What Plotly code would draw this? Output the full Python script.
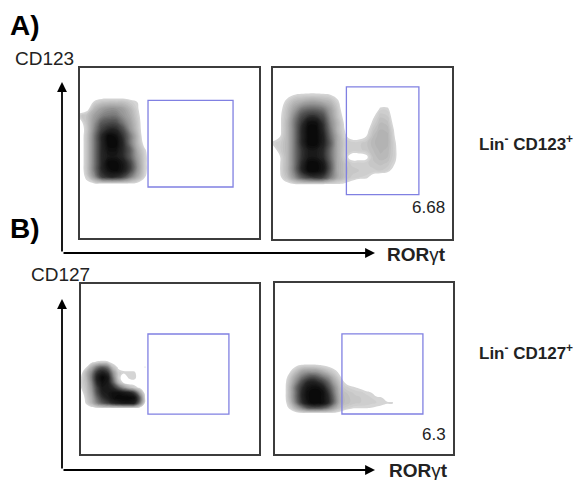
import plotly.graph_objects as go

W, H = 581, 480

# ------------------------------------------------------------------ data
panel_titles = ["A", "B"]
y_markers = ["CD123", "CD127"]
x_marker = "<b>ROR</b>\u03b3<b>t</b>"
row_labels = ["Lin<sup>-</sup> CD123<sup>+</sup>", "Lin<sup>-</sup> CD127<sup>+</sup>"]
gate_pct = ["", "6.68", "", "6.3"]

gate_x0 = [38.0, 41.0, 37.6, 37.6]
gate_x1 = [85.5, 81.5, 83.1, 83.1]
gate_y0 = [30.0, 26.0, 23.5, 23.4]
gate_y1 = [81.0, 89.0, 70.6, 70.2]

# density grids (relative event density, 0-10)
al_x = [0, 4, 8, 12, 16, 20, 24, 28, 32, 36, 40]
al_y = [28, 32, 36, 40, 44, 48, 52, 56, 60, 64, 68, 72, 76, 80, 84]
al_z = [
    [0, 0, 0, 0, 0, 0, 0, 0, 0, 0, 0],
    [0, 0.6, 0.9, 0.9, 0.9, 0.9, 0.9, 0.9, 0.7, 0, 0],
    [0, 1.5, 4, 7, 8, 8, 7, 5, 3, 1.2, 0],
    [0, 2, 5, 8, 9.5, 10, 9, 7, 4, 1.5, 0],
    [0, 2, 5, 8, 10, 10, 9, 7, 4, 1.5, 0],
    [0, 2, 5, 8, 9, 9, 8, 6, 3.5, 1.5, 0],
    [0, 2, 5, 8, 9.5, 9.5, 8, 6, 3, 1.2, 0],
    [0, 2, 5, 8, 10, 10, 8, 5, 2.5, 0.5, 0],
    [0, 2, 5, 8, 10, 9.5, 7.5, 5, 2.5, 0, 0],
    [0, 1.8, 4.5, 7, 8, 8, 6.5, 4, 2, 0, 0],
    [0.5, 2, 4, 6, 6.5, 6.5, 5, 3.5, 1.8, 0, 0],
    [1.5, 2, 3.5, 4.5, 5, 5, 4, 3, 1.5, 0, 0],
    [0, 0.5, 2.5, 3.5, 4, 4, 3.5, 2.5, 1.2, 0, 0],
    [0, 0, 1.2, 1.8, 2, 2, 2, 1.5, 1, 0, 0],
    [0, 0, 0, 0, 0, 0, 0, 0, 0, 0, 0],
]

ar_x = [0, 4, 8, 12, 16, 20, 24, 28, 32, 36, 40, 44, 48, 52, 56, 60, 64, 68, 72]
ar_y = [28, 32, 36, 40, 44, 48, 52, 56, 60, 64, 68, 72, 76, 80, 84, 88]
ar_z = [
    [0, 0, 0, 0, 0, 0, 0, 0, 0, 0, 0, 0, 0, 0, 0, 0, 0, 0, 0],
    [0, 0, 0.6, 0.9, 0.9, 0.9, 0.9, 0.9, 0.9, 0.9, 0.8, 0.5, 0, 0, 0, 0, 0, 0, 0],
    [0, 0.8, 2, 4, 6, 7, 7.5, 7, 5, 3, 2, 1.5, 1.3, 1.2, 0.5, 0, 0, 0, 0],
    [0, 1, 2.5, 5, 8, 10, 10, 9, 6, 3, 2, 1.8, 1.6, 1.5, 1.5, 1.6, 1.3, 0.5, 0],
    [0, 1, 2.5, 5, 8, 10, 10, 9, 6, 3, 2, 1.5, 1.5, 1.5, 1.8, 2, 1.8, 1, 0],
    [0, 1, 2.5, 5, 7.5, 9, 9, 8, 5.5, 3, 1.5, 0.5, 0.5, 0.7, 2, 2.4, 2.2, 1.3, 0],
    [0.5, 1.5, 2.5, 5, 7.5, 9, 9, 8, 5.5, 3, 1.5, 1.5, 1.5, 1.7, 2.2, 2.6, 2.4, 1.3, 0],
    [1.2, 1.5, 2.5, 5, 8, 10, 10, 8.5, 6, 3, 1.6, 1.5, 1.5, 1.8, 2.4, 2.8, 2.6, 1.2, 0],
    [0.5, 1, 2.5, 5, 8, 10, 10, 8.5, 5.5, 3, 1.2, 0.6, 0.6, 1, 2.2, 2.8, 2.6, 1.0, 0],
    [0, 0.8, 2.5, 5, 8, 10, 10, 8, 5, 2.5, 1, 0, 0, 0.5, 1.8, 2.5, 2.4, 0.8, 0],
    [0, 0.8, 2.5, 5, 7.5, 9.5, 9.5, 7.5, 4.5, 2.5, 0.8, 0, 0, 0, 1.3, 2.2, 2, 0.5, 0],
    [0, 0.8, 2.2, 4.5, 6.5, 7.5, 7.5, 6.5, 4, 2, 0.5, 0, 0, 0, 0.8, 1.8, 1.6, 0.3, 0],
    [0, 0.6, 2, 3.5, 5, 5.5, 5.5, 5, 3.5, 1.8, 0, 0, 0, 0, 0, 1.2, 1.2, 0, 0],
    [0, 0.3, 1.5, 2.5, 3, 3.5, 3.5, 3, 2.5, 1.3, 0, 0, 0, 0, 0, 0.3, 0.3, 0, 0],
    [0, 0, 0.6, 1.1, 1.3, 1.4, 1.4, 1.3, 1.1, 0.6, 0, 0, 0, 0, 0, 0, 0, 0, 0],
    [0, 0, 0, 0, 0, 0, 0, 0, 0, 0, 0, 0, 0, 0, 0, 0, 0, 0, 0],
]

bl_x = [0, 3, 6, 9, 12, 15, 18, 21, 24, 27, 30, 33, 36, 39]
bl_y = [24, 27, 30, 33, 36, 39, 42, 45, 48, 51, 54, 57]
bl_z = [
    [0, 0, 0, 0, 0, 0, 0, 0, 0, 0, 0, 0, 0, 0],
    [0, 0.3, 0.6, 0.8, 0.9, 0.9, 0.9, 0.9, 0.9, 0.9, 0.8, 0.5, 0, 0],
    [0, 1.2, 2.5, 4.5, 6, 7, 8, 8.5, 9, 9, 8.5, 5, 0.8, 0],
    [0, 1.5, 3, 5.5, 7.5, 8.5, 9.5, 10, 10, 10, 9.5, 6, 1, 0],
    [0.5, 1.8, 3.5, 6.5, 8.5, 9, 9.5, 9.5, 9, 8.5, 7, 3.5, 0.5, 0],
    [1, 2, 4, 7, 9, 9, 8, 6, 4, 2.5, 1.5, 0.8, 0, 0],
    [1.2, 2.2, 4.5, 8, 9.5, 9, 6, 2.5, 0.8, 0.3, 0.5, 0, 0, 0],
    [1, 2.5, 5, 8.5, 10, 9, 5, 1.5, 0.3, 1.2, 1.3, 0.3, 0, 0],
    [0.5, 2.5, 4.5, 7.5, 8.5, 7.5, 4, 1.4, 1.2, 1.3, 1.2, 0, 0, 0],
    [0, 1, 3, 5, 6, 5, 2, 0.8, 0.4, 0, 0, 0.3, 1.1, 0],
    [0, 0, 0.8, 1.2, 1.4, 1.2, 0.6, 0, 0, 0, 0, 0, 0.5, 0],
    [0, 0, 0, 0, 0, 0, 0, 0, 0, 0, 0, 0, 0, 0],
]

br_x = [0, 3, 6, 9, 12, 15, 18, 21, 24, 27, 30, 33, 36, 39, 42, 45, 48, 51, 54, 57, 60, 63, 66, 69]
br_y = [21, 24, 27, 30, 33, 36, 39, 42, 45, 48, 51, 54]
br_z = [
    [0] * 24,
    [0, 0, 0, 0.3, 0.7, 0.9, 0.9, 0.9, 0.9, 0.9, 0.9, 0.9, 0.7, 0.3, 0, 0, 0, 0, 0, 0, 0, 0, 0, 0],
    [0, 0, 0.5, 1.5, 3, 4.5, 6, 6.5, 6.5, 6, 5, 3.5, 2.2, 1.6, 1.3, 1.1, 1.1, 1.1, 1.0, 0.9, 0.8, 0.6, 0.3, 0],
    [0, 0, 0.8, 2.5, 5, 7.5, 9, 10, 10, 9.5, 8, 5.5, 3, 2.2, 1.9, 1.7, 1.6, 1.5, 1.4, 1.3, 1.2, 1.1, 1.2, 0],
    [0, 0, 1, 3, 5.5, 8, 9.5, 10, 10, 9.5, 8, 5.5, 3, 2.2, 1.9, 1.7, 1.6, 1.5, 1.3, 1.1, 1, 0.6, 0, 0],
    [0, 0, 1, 3, 5.5, 8, 9.5, 10, 10, 9.5, 7.5, 5, 2.8, 2, 1.7, 1.5, 1.4, 1.2, 1, 0.6, 0.3, 0, 0, 0],
    [0, 0, 1, 3, 5.5, 7.5, 9, 9.5, 9.5, 8.5, 6.5, 4.5, 2.5, 1.5, 1.2, 1, 0.8, 0.5, 0, 0, 0, 0, 0, 0],
    [0, 0, 0.9, 2.5, 4.5, 6.5, 8, 8.5, 8, 7, 5.5, 3.5, 2, 1, 0.5, 0, 0, 0, 0, 0, 0, 0, 0, 0],
    [0, 0, 0.6, 2, 3.5, 5, 6, 6.5, 6, 5, 4, 2.5, 1.3, 0.5, 0, 0, 0, 0, 0, 0, 0, 0, 0, 0],
    [0, 0, 0, 1.2, 2.3, 3.5, 4, 4, 3.8, 3, 2.2, 1.5, 0.8, 0, 0, 0, 0, 0, 0, 0, 0, 0, 0, 0],
    [0, 0, 0, 0.4, 1.1, 1.6, 1.8, 1.8, 1.6, 1.3, 1, 0.6, 0, 0, 0, 0, 0, 0, 0, 0, 0, 0, 0, 0],
    [0] * 24,
]

grids = [(al_x, al_y, al_z), (ar_x, ar_y, ar_z), (bl_x, bl_y, bl_z), (br_x, br_y, br_z)]

# ------------------------------------------------------------------ layout helpers (pixel boxes)
boxes = [  # left, right, top, bottom in pixels
    (80, 259, 68, 238),
    (273, 452, 68, 239),
    (81, 259, 284, 454),
    (275, 453, 283, 454),
]


def px(x):
    return x / W


def py(y):
    return 1 - y / H


GATE = "rgb(128,128,226)"
FONT = "Liberation Sans, Arial, Helvetica, sans-serif"

# contour colour map spans [start - size/2, end + size/2] (no zmin/zmax given)
LEV_START, LEV_END, LEV_SIZE = 1.0, 10.0, 0.3
colorscale = [
    [0.0, "rgba(255,255,255,0)"],
    [0.015, "rgba(255,255,255,0)"],
    [0.02, "rgb(216,216,216)"],
    [0.13, "rgb(192,192,192)"],
    [0.34, "rgb(148,148,148)"],
    [0.55, "rgb(92,92,92)"],
    [0.77, "rgb(40,40,40)"],
    [1.0, "rgb(5,5,5)"],
]

fig = go.Figure()
shapes = []
annotations = []

for i, ((gx, gy, gz), (l, r, t, b)) in enumerate(zip(grids, boxes)):
    n = "" if i == 0 else str(i + 1)
    fig.add_trace(go.Contour(
        x=gx, y=gy, z=gz, autocontour=False,
        contours=dict(coloring="fill", start=LEV_START, end=LEV_END, size=LEV_SIZE,
                      showlines=False),
        line=dict(width=0, smoothing=1.3),
        colorscale=colorscale, showscale=False, hoverinfo="skip",
        xaxis="x" + n, yaxis="y" + n,
    ))
    axcommon = dict(range=[0, 100], showgrid=False, zeroline=False, showticklabels=False,
                    ticks="", showline=True, mirror=True, linecolor="#3c3c3c", linewidth=1.5,
                    fixedrange=True)
    fig.layout["xaxis" + n] = dict(domain=[px(l), px(r)], anchor="y" + n, **axcommon)
    fig.layout["yaxis" + n] = dict(domain=[py(b), py(t)], anchor="x" + n, **axcommon)
    shapes.append(dict(type="rect", xref="x" + n, yref="y" + n,
                       x0=gate_x0[i], x1=gate_x1[i], y0=gate_y0[i], y1=gate_y1[i],
                       line=dict(color=GATE, width=1.3), layer="above"))
    if gate_pct[i]:
        annotations.append(dict(text=gate_pct[i], xref="paper", yref="paper",
                                x=px(r - 5), y=py(b - 32 if i == 1 else b - 20),
                                xanchor="right", yanchor="middle", showarrow=False,
                                font=dict(family=FONT, size=17, color="#222")))

# axis arrows for each row
arrow_rows = [(62, 253, 82), (62, 470, 299)]  # x of vertical, y of horizontal, top of vertical
for (vx, hy, vtop) in arrow_rows:
    annotations.append(dict(x=px(375), y=py(hy), xref="paper", yref="paper",
                            ax=-(375 - vx), ay=0, showarrow=True, arrowhead=2,
                            arrowsize=1.1, arrowwidth=1.8, arrowcolor="black", text=""))
    annotations.append(dict(x=px(vx), y=py(vtop), xref="paper", yref="paper",
                            ax=0, ay=(hy - vtop), showarrow=True, arrowhead=2,
                            arrowsize=1.1, arrowwidth=1.8, arrowcolor="black", text=""))

# texts
title_pos = [(8, 25), (8, 228)]
ymark_pos = [(13, 58), (29, 274)]
xmark_pos = [(385, 254), (387, 470)]
rowlab_pos = [(477, 143), (477, 352)]
for k in range(2):
    annotations.append(dict(text="<b>" + panel_titles[k] + ")</b>", xref="paper", yref="paper",
                            x=px(title_pos[k][0]), y=py(title_pos[k][1]), xanchor="left",
                            yanchor="middle", showarrow=False,
                            font=dict(family=FONT, size=28, color="black")))
    annotations.append(dict(text=y_markers[k], xref="paper", yref="paper",
                            x=px(ymark_pos[k][0]), y=py(ymark_pos[k][1]), xanchor="left",
                            yanchor="middle", showarrow=False,
                            font=dict(family=FONT, size=19, color="#222")))
    annotations.append(dict(text=x_marker, xref="paper", yref="paper",
                            x=px(xmark_pos[k][0]), y=py(xmark_pos[k][1]), xanchor="left",
                            yanchor="middle", showarrow=False,
                            font=dict(family=FONT, size=19, color="#222")))
    annotations.append(dict(text="<b>" + row_labels[k] + "</b>", xref="paper", yref="paper",
                            x=px(rowlab_pos[k][0]), y=py(rowlab_pos[k][1]), xanchor="left",
                            yanchor="middle", showarrow=False,
                            font=dict(family=FONT, size=17, color="#222")))

fig.update_layout(
    width=W, height=H, autosize=False,
    margin=dict(l=0, r=0, t=0, b=0, pad=0),
    paper_bgcolor="white", plot_bgcolor="white",
    showlegend=False, shapes=shapes, annotations=annotations,
)

fig.write_html("out.html", config={"displayModeBar": False},
               post_script="document.body.style.margin='0';document.body.style.overflow='hidden';")
